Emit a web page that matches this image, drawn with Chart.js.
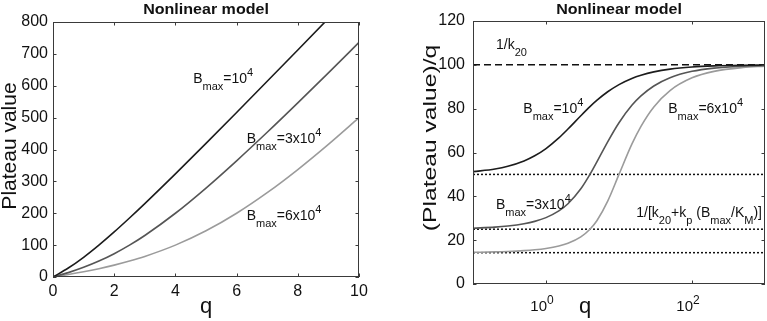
<!DOCTYPE html>
<html>
<head>
<meta charset="utf-8">
<script src="https://cdn.jsdelivr.net/npm/chart.js@4.4.1/dist/chart.umd.min.js"></script>
<style>
html, body { margin: 0; padding: 0; background: #fff; }
#wrap { position: relative; width: 767px; height: 321px; }
canvas { position: absolute; top: 0; }
#left { left: 0; }
#right { left: 380px; }
</style>
</head>
<body>
<div id="wrap">
  <canvas id="left" width="380" height="321"></canvas>
  <canvas id="right" width="387" height="321"></canvas>
</div>
<script>
// Datos del panel izquierdo: valor de meseta frente a q
const qLeft = [0, 0.5, 1, 1.5, 2, 2.5, 3, 4, 5, 6, 7, 8, 9, 10];
const plateau1e4 = [0, 28.1, 61.8, 100.0, 141.4, 185.1, 230.3, 323.6, 419.3, 516.2, 614.0, 712.3, 811.0, 909.9];
const plateau3e4 = [0, 13.7, 30.3, 50.0, 73.2, 100.0, 130.3, 200.0, 279.1, 364.6, 454.1, 546.4, 640.5, 735.9];
const plateau6e4 = [0, 7.6, 16.2, 26.0, 37.2, 50.0, 64.6, 100.0, 144.9, 200.0, 264.6, 337.2, 416.2, 500.0];

// Datos del panel derecho: (valor de meseta)/q frente a q (eje log)
const qRight = [0.1, 0.2, 0.3, 0.5, 0.7, 1, 1.5, 2, 3, 4, 5, 7, 10, 15, 20, 30, 50, 100, 200, 500, 1000];
const ratio1e4 = [51.25, 52.49, 53.73, 56.16, 58.50, 61.80, 66.67, 70.71, 76.76, 80.90, 83.85, 87.71, 90.99, 93.78, 95.25, 96.78, 98.04, 99.01, 99.51, 99.80, 99.90];
const ratio3e4 = [25.47, 25.96, 26.46, 27.49, 28.57, 30.28, 33.33, 36.60, 43.43, 50.00, 55.83, 64.88, 73.59, 81.51, 85.83, 90.36, 94.13, 97.03, 98.51, 99.40, 99.70];
const ratio6e4 = [14.46, 14.64, 14.83, 15.21, 15.60, 16.23, 17.36, 18.61, 21.53, 25.00, 28.99, 37.80, 50.00, 63.79, 71.95, 80.79, 88.27, 94.06, 97.02, 98.80, 99.40];

// Asíntotas: 1/k20 y 1/[k20 + kp (Bmax/KM)]
const upperLevel = 100;
const lowerLevels = [50, 25, 14.29];
const qRange = [0.1, 1000];

// Ticks
const xTicksRight = [1, 100];

const FONT = '"Liberation Sans", Arial, Helvetica, sans-serif';
const C1 = '#1c1c1c', C3 = '#555555', C6 = '#9b9b9b';

function toPoints(xs, ys) {
    return xs.map((x, i) => ({ x: x, y: ys[i] }));
}

// Texto con subíndices / superíndices
function richWidth(ctx, parts, base) {
    let w = 0;
    parts.forEach(([txt, mode]) => {
        ctx.font = (mode ? Math.round(base * 0.78) : base) + 'px ' + FONT;
        w += ctx.measureText(txt).width;
    });
    return w;
}
function drawRich(ctx, x, y, parts, base) {
    let cx = x;
    parts.forEach(([txt, mode]) => {
        ctx.font = (mode ? Math.round(base * 0.78) : base) + 'px ' + FONT;
        const dy = mode === 'sub' ? 7 : (mode === 'sup' ? -7 : 0);
        ctx.fillText(txt, cx, y + dy);
        cx += ctx.measureText(txt).width;
    });
}

// Caja estilo MATLAB, ticks hacia dentro y textos
const boxPlugin = {
    id: 'matlabBox',
    beforeDraw(chart) {
        const ctx = chart.ctx;
        ctx.save();
        ctx.fillStyle = '#fff';
        ctx.fillRect(0, 0, chart.width, chart.height);
        ctx.restore();
    },
    afterDraw(chart, args, opts) {
        const { ctx, chartArea: a, scales } = chart;
        ctx.save();
        ctx.strokeStyle = '#3a3a3a';
        ctx.lineWidth = 1;
        ctx.strokeRect(a.left + 0.5, a.top + 0.5, a.right - a.left - 1, a.bottom - a.top - 1);
        const tl = 3.5;
        ctx.beginPath();
        scales.x.ticks.forEach(t => {
            const px = Math.round(scales.x.getPixelForValue(t.value)) + 0.5;
            ctx.moveTo(px, a.bottom); ctx.lineTo(px, a.bottom - tl);
            ctx.moveTo(px, a.top); ctx.lineTo(px, a.top + tl);
        });
        scales.y.ticks.forEach(t => {
            const py = Math.round(scales.y.getPixelForValue(t.value)) + 0.5;
            ctx.moveTo(a.left, py); ctx.lineTo(a.left + tl, py);
            ctx.moveTo(a.right, py); ctx.lineTo(a.right - tl, py);
        });
        ctx.stroke();

        ctx.fillStyle = '#111';
        ctx.textBaseline = 'alphabetic';
        ctx.textAlign = 'left';

        // título
        const cxArea = (a.left + a.right) / 2;
        ctx.save();
        ctx.font = 'bold 15px ' + FONT;
        ctx.translate(cxArea, opts.titleY);
        ctx.scale(1.07, 1);
        ctx.textAlign = 'center';
        ctx.fillText(opts.title, 0, 0);
        ctx.restore();

        // título eje y (rotado)
        ctx.save();
        ctx.font = opts.yTitleSize + 'px ' + FONT;
        ctx.translate(opts.yTitleX, opts.yTitleY);
        ctx.rotate(-Math.PI / 2);
        ctx.scale(opts.yTitleStretch, 1);
        ctx.textAlign = 'center';
        ctx.fillText(opts.yTitle, 0, 0);
        ctx.restore();

        // título eje x
        ctx.save();
        ctx.font = '22px ' + FONT;
        ctx.textAlign = 'center';
        ctx.fillText('q', cxArea + opts.xTitleShift, 313);
        ctx.restore();

        // etiquetas log 10^n
        if (opts.logLabels) {
            scales.x.ticks.forEach(t => {
                const px = scales.x.getPixelForValue(t.value);
                const exp = Math.round(Math.log10(t.value));
                const parts = [['10', ''], [String(exp), 'sup']];
                ctx.font = '15px ' + FONT;
                const w10 = ctx.measureText('10').width;
                drawRich(ctx, px - w10 + 1, 311, parts, 15);
            });
        }

        // anotaciones en coordenadas de datos
        (opts.notes || []).forEach(n => {
            const size = n.size || 14;
            let px = scales.x.getPixelForValue(n.x);
            const py = scales.y.getPixelForValue(n.y);
            if (n.align === 'right') px -= richWidth(ctx, n.parts, size);
            drawRich(ctx, px, py, n.parts, size);
        });
        ctx.restore();
    }
};

function axisCommon(size) {
    return {
        grid: { display: false, drawTicks: false },
        border: { display: false },
        ticks: { font: { size: size, family: FONT }, color: '#111', autoSkip: false, maxRotation: 0 }
    };
}

// Panel izquierdo
const axL = axisCommon(16), ayL = axisCommon(16);
new Chart(document.getElementById('left'), {
    type: 'line',
    data: {
        datasets: [
            { data: toPoints(qLeft, plateau1e4), borderColor: C1 },
            { data: toPoints(qLeft, plateau3e4), borderColor: C3 },
            { data: toPoints(qLeft, plateau6e4), borderColor: C6 }
        ]
    },
    options: {
        animation: false,
        responsive: false,
        devicePixelRatio: 1,
        layout: { padding: { left: 0, right: 21, top: 22, bottom: 0 } },
        elements: {
            point: { radius: 0 },
            line: { borderWidth: 1.6, cubicInterpolationMode: 'monotone', fill: false }
        },
        plugins: {
            legend: { display: false },
            tooltip: { enabled: false },
            matlabBox: {
                title: 'Nonlinear model', titleY: 14,
                yTitle: 'Plateau value', yTitleSize: 21, yTitleStretch: 1, yTitleX: 16, yTitleY: 146,
                xTitleShift: 0,
                notes: [
                    { x: 4.58, y: 608, parts: [['B', ''], ['max', 'sub'], ['=10', ''], ['4', 'sup']] },
                    { x: 6.33, y: 420, parts: [['B', ''], ['max', 'sub'], ['=3x10', ''], ['4', 'sup']] },
                    { x: 6.33, y: 179, parts: [['B', ''], ['max', 'sub'], ['=6x10', ''], ['4', 'sup']] }
                ]
            }
        },
        scales: {
            x: Object.assign(axL, {
                type: 'linear', min: 0, max: 10,
                ticks: Object.assign(axL.ticks, { stepSize: 2, padding: 5 }),
                afterFit(s) { s.height = 44; }
            }),
            y: Object.assign(ayL, {
                type: 'linear', min: 0, max: 800,
                ticks: Object.assign(ayL.ticks, { stepSize: 100, padding: 5 }),
                afterFit(s) { s.width = 53; }
            })
        }
    },
    plugins: [boxPlugin]
});

// Panel derecho
const axR = axisCommon(15), ayR = axisCommon(16);
new Chart(document.getElementById('right'), {
    type: 'line',
    data: {
        datasets: [
            { data: toPoints(qRight, ratio1e4), borderColor: C1 },
            { data: toPoints(qRight, ratio3e4), borderColor: C3 },
            { data: toPoints(qRight, ratio6e4), borderColor: C6 },
            { data: toPoints(qRange, [upperLevel, upperLevel]), borderColor: '#111', borderWidth: 1.5, borderDash: [7, 4], cubicInterpolationMode: 'default', tension: 0 }
        ].concat(lowerLevels.map(v => ({
            data: toPoints(qRange, [v, v]), borderColor: '#111', borderWidth: 1.5, borderDash: [2, 2], cubicInterpolationMode: 'default', tension: 0
        })))
    },
    options: {
        animation: false,
        responsive: false,
        devicePixelRatio: 1,
        layout: { padding: { left: 0, right: 2, top: 21, bottom: 0 } },
        elements: {
            point: { radius: 0 },
            line: { borderWidth: 1.6, cubicInterpolationMode: 'monotone', fill: false }
        },
        plugins: {
            legend: { display: false },
            tooltip: { enabled: false },
            matlabBox: {
                title: 'Nonlinear model', titleY: 14,
                yTitle: '(Plateau value)/q', yTitleSize: 18, yTitleStretch: 1.37, yTitleX: 56, yTitleY: 138,
                xTitleShift: -34,
                logLabels: true,
                notes: [
                    { x: 0.2065, y: 107.1, parts: [['1/k', ''], ['20', 'sub']] },
                    { x: 0.489, y: 78, parts: [['B', ''], ['max', 'sub'], ['=10', ''], ['4', 'sup']] },
                    { x: 47.3, y: 78, parts: [['B', ''], ['max', 'sub'], ['=6x10', ''], ['4', 'sup']] },
                    { x: 0.2065, y: 34.2, parts: [['B', ''], ['max', 'sub'], ['=3x10', ''], ['4', 'sup']] },
                    { x: 910, y: 30.6, size: 14, align: 'right', parts: [['1/[k', ''], ['20', 'sub'], ['+k', ''], ['p', 'sub'], [' (B', ''], ['max', 'sub'], ['/K', ''], ['M', 'sub'], [')]', '']] }
                ]
            }
        },
        scales: {
            x: Object.assign(axR, {
                type: 'logarithmic', min: 0.1, max: 1000,
                ticks: Object.assign(axR.ticks, { display: false }),
                afterBuildTicks(s) { s.ticks = xTicksRight.map(v => ({ value: v })); },
                afterFit(s) { s.height = 37; }
            }),
            y: Object.assign(ayR, {
                type: 'linear', min: 0, max: 120,
                ticks: Object.assign(ayR.ticks, { stepSize: 20, padding: 8 }),
                afterFit(s) { s.width = 93; }
            })
        }
    },
    plugins: [boxPlugin]
});
</script>
</body>
</html>
